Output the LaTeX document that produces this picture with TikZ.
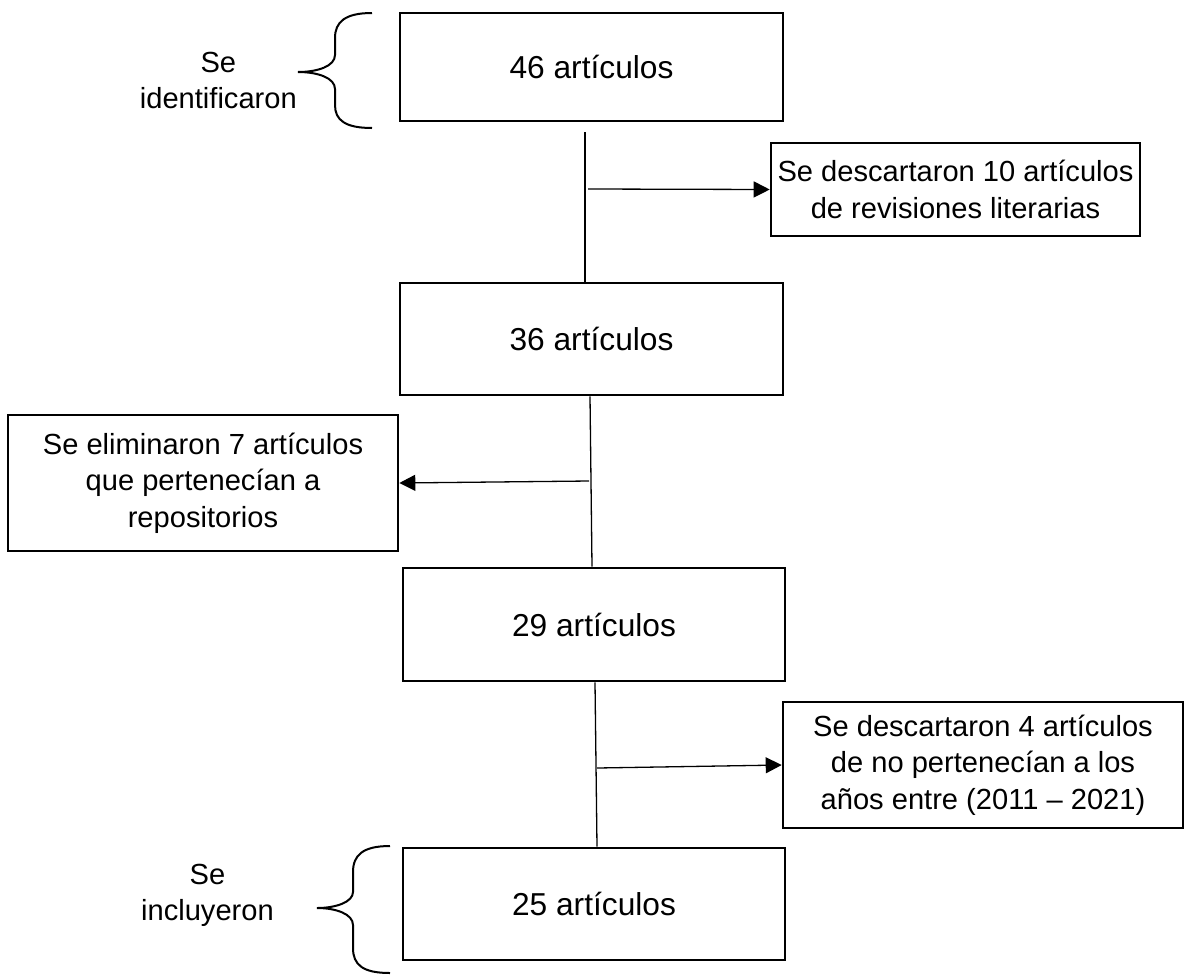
\documentclass[tikz,border=0pt]{standalone}
\usepackage{fontspec}
\setmainfont{Liberation Sans}
\usetikzlibrary{arrows.meta}
\begin{document}
\begin{tikzpicture}[x=1pt,y=-1pt,
  box/.style 2 args={draw, line width=2.6pt, minimum width=#1, minimum height=#2, align=center, inner sep=0pt, font=\fontsize{29.1}{36.5}\selectfont},
  mainbox/.style 2 args={box={#1}{#2}, font=\fontsize{31.7}{38}\selectfont},
  lbl/.style={align=center, inner sep=0pt, font=\fontsize{29.1}{36}\selectfont},
  conn/.style={line width=1.3pt},
  arr/.style={line width=1.3pt, -{Triangle[length=16pt,width=16pt]}},
  brace/.style={line width=2pt}]
\useasboundingbox (0,0) rectangle (1188,975);

\node[mainbox={383}{108}] (b1) at (591.5,67) {46 artículos};
\node[box={369}{93}] (b2) at (955.5,189.5) {Se descartaron 10 artículos\\de revisiones literarias};
\node[mainbox={383}{112}] (b3) at (591.5,339) {36 artículos};
\node[box={390}{136}] (b4) at (203,483) {Se eliminaron 7 artículos\\que pertenecían a\\repositorios};
\node[mainbox={382}{113}] (b5) at (594,624.5) {29 artículos};
\node[box={400}{126}] (b6) at (983,765) {Se descartaron 4 artículos\\de no pertenecían a los\\años entre (2011 – 2021)};
\node[mainbox={382}{112}] (b7) at (594,904) {25 artículos};

\node[lbl, anchor=east] (t1) at (297,80) {Se\\identificaron};
\node[lbl, anchor=east] (t2) at (274,895) {Se\\incluyeron};

% connectors
\coordinate (v1) at (585,132);
\draw[conn] (v1) -- (v1 |- b3.north);
\coordinate (a1) at (588,189);
\draw[arr] (a1) -- (b2.west);

\draw[conn] (b3.south -| 590,0) -- (b5.north -| 592,0);
\coordinate (a2) at (589,481);
\draw[arr] (a2) -- (b4.east);

\draw[conn] (b5.south -| 595,0) -- (b7.north -| 597,0);
\coordinate (a3) at (597,768);
\draw[arr] (a3) -- (b6.west);

% braces
\draw[brace] (372,13) .. controls (345,13) and (335,22) .. (335,38)
  -- (335,55) .. controls (335,66) and (318,72) .. (298,72)
  .. controls (318,72) and (335,78) .. (335,89)
  -- (335,105) .. controls (335,120) and (345,128) .. (372,128);
\draw[brace] (390,846) .. controls (363,846) and (353,855) .. (353,872)
  -- (353,892) .. controls (353,902) and (336,908) .. (317,908)
  .. controls (336,908) and (353,914) .. (353,925)
  -- (353,948) .. controls (353,965) and (363,973) .. (390,973);
\end{tikzpicture}
\end{document}
